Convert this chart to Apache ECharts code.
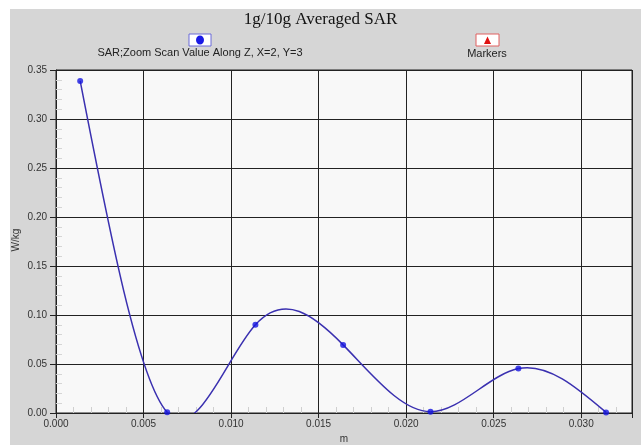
<!DOCTYPE html>
<html>
<head>
<meta charset="utf-8">
<script src="https://cdn.jsdelivr.net/npm/echarts@6/dist/echarts.min.js"></script>
<style>html,body{margin:0;padding:0;background:#fff}#c{width:641px;height:445px}</style>
</head>
<body>
<div id="c"></div>
<script>
// Data
var xPositions = [0.00138, 0.00635, 0.01139, 0.0164, 0.02139, 0.02641, 0.03142];
var sarValues  = [0.3388, 0.0007, 0.0900, 0.0695, 0.0013, 0.0453, 0.0006];
var xTickLabels = ['0.000','0.005','0.010','0.015','0.020','0.025','0.030'];
var yTickLabels = ['0.00','0.05','0.10','0.15','0.20','0.25','0.30','0.35'];
var titleText = '1g/10g Averaged SAR';
var seriesName = 'SAR;Zoom Scan Value Along Z, X=2, Y=3';
var markersName = 'Markers';

var points = xPositions.map(function (x, i) { return [x, sarValues[i]]; });

// Natural cubic spline second derivatives (the reference curve is a natural spline through the points)
function naturalSplineM(xs, ys) {
  var n = xs.length, M = new Array(n).fill(0);
  if (n < 3) return M;
  var a = [], b = [], c = [], d = [];
  for (var i = 1; i < n - 1; i++) {
    var h0 = xs[i] - xs[i - 1], h1 = xs[i + 1] - xs[i];
    a.push(h0); b.push(2 * (h0 + h1)); c.push(h1);
    d.push(6 * ((ys[i + 1] - ys[i]) / h1 - (ys[i] - ys[i - 1]) / h0));
  }
  var m = b.length, cp = [], dp = [];
  cp[0] = c[0] / b[0]; dp[0] = d[0] / b[0];
  for (var k = 1; k < m; k++) {
    var den = b[k] - a[k] * cp[k - 1];
    cp[k] = c[k] / den; dp[k] = (d[k] - a[k] * dp[k - 1]) / den;
  }
  var sol = []; sol[m - 1] = dp[m - 1];
  for (var k2 = m - 2; k2 >= 0; k2--) sol[k2] = dp[k2] - cp[k2] * sol[k2 + 1];
  for (var j = 0; j < m; j++) M[j + 1] = sol[j];
  return M;
}
var splineM = naturalSplineM(xPositions, sarValues);

var chart = echarts.init(document.getElementById('c'), null, {renderer: 'canvas'});
var labelFont = {color: '#333', fontSize: 10, fontFamily: 'Liberation Sans, Arial, sans-serif'};

function renderSegment(params, api) {
  var i = params.dataIndex;
  if (i >= xPositions.length - 1) return null;
  var x0 = xPositions[i], x1 = xPositions[i + 1], y0 = sarValues[i], y1 = sarValues[i + 1];
  var h = x1 - x0, s = (y1 - y0) / h;
  var m0 = s - h * (2 * splineM[i] + splineM[i + 1]) / 6;
  var m1 = s + h * (splineM[i] + 2 * splineM[i + 1]) / 6;
  var p0 = api.coord([x0, y0]);
  var p1 = api.coord([x1, y1]);
  var c0 = api.coord([x0 + h / 3, y0 + m0 * h / 3]);
  var c1 = api.coord([x1 - h / 3, y1 - m1 * h / 3]);
  var cs = params.coordSys;
  return {
    type: 'group',
    clipPath: {type: 'rect', shape: {x: cs.x, y: cs.y, width: cs.width, height: cs.height}},
    children: [{
      type: 'bezierCurve',
      shape: {x1: p0[0], y1: p0[1], cpx1: c0[0], cpy1: c0[1], cpx2: c1[0], cpy2: c1[1], x2: p1[0], y2: p1[1]},
      style: {stroke: '#3a30b0', lineWidth: 1.5, fill: null}
    }]
  };
}

chart.setOption({
  backgroundColor: '#ffffff',
  animation: false,
  title: {
    text: titleText, left: 'center', top: 6,
    textStyle: {fontFamily: 'Liberation Serif, Times New Roman, serif', fontWeight: 'normal', fontSize: 17, color: '#111'}
  },
  graphic: [
    {type: 'rect', z: -10, shape: {x: 10, y: 9, width: 631, height: 436}, style: {fill: '#d6d6d6'}},
    {type: 'rect', shape: {x: 189, y: 34, width: 22, height: 12}, style: {fill: '#ffffff', stroke: '#6a6ad8', lineWidth: 1}},
    {type: 'ellipse', shape: {cx: 200, cy: 40, rx: 4, ry: 4.5}, style: {fill: '#1a1ae6'}},
    {type: 'text', x: 200, y: 53, style: {text: seriesName, align: 'center', verticalAlign: 'middle', fill: '#222', fontSize: 11, fontFamily: 'Liberation Sans, Arial, sans-serif'}},
    {type: 'rect', shape: {x: 476, y: 34, width: 23, height: 12}, style: {fill: '#ffffff', stroke: '#e06060', lineWidth: 1}},
    {type: 'polygon', shape: {points: [[487.5, 36.5], [484, 44], [491, 44]]}, style: {fill: '#e01010'}},
    {type: 'text', x: 487, y: 54, style: {text: markersName, align: 'center', verticalAlign: 'middle', fill: '#222', fontSize: 11, fontFamily: 'Liberation Sans, Arial, sans-serif'}},
    {type: 'text', x: 16, y: 240, rotation: Math.PI / 2, style: {text: 'W/kg', align: 'center', verticalAlign: 'middle', fill: '#333', fontSize: 10, fontFamily: 'Liberation Sans, Arial, sans-serif'}},
    {type: 'text', x: 344, y: 439, style: {text: 'm', align: 'center', verticalAlign: 'middle', fill: '#333', fontSize: 10, fontFamily: 'Liberation Sans, Arial, sans-serif'}}
  ],
  grid: {left: 56, right: 9, top: 70, bottom: 32, show: true, backgroundColor: '#f8f8f8', borderColor: '#222', borderWidth: 1},
  xAxis: [{
    type: 'value', min: 0, max: 0.0329, interval: 0.005,
    axisLine: {show: true, lineStyle: {color: '#222'}},
    axisTick: {show: true, length: 5, lineStyle: {color: '#222'}},
    axisLabel: Object.assign({margin: 6, formatter: function (v) {
      var i = Math.round(v / 0.005);
      return Math.abs(v - i * 0.005) < 1e-9 && xTickLabels[i] ? xTickLabels[i] : '';
    }}, labelFont),
    splitLine: {show: true, lineStyle: {color: '#222', width: 1}}
  }, {
    type: 'value', min: 0, max: 0.0329, interval: 0.005, position: 'bottom',
    axisLine: {show: false}, axisLabel: {show: false}, splitLine: {show: false},
    axisTick: {show: false, inside: true},
    minorTick: {show: true, splitNumber: 5, length: 6, lineStyle: {color: '#cfcfcf'}}
  }],
  yAxis: [{
    type: 'value', min: 0, max: 0.35, interval: 0.05,
    axisLine: {show: true, lineStyle: {color: '#222'}},
    axisTick: {show: true, length: 6, lineStyle: {color: '#222'}},
    axisLabel: Object.assign({margin: 9, formatter: function (v) {
      var i = Math.round(v / 0.05);
      return yTickLabels[i] || '';
    }}, labelFont),
    splitLine: {show: true, lineStyle: {color: '#222', width: 1}}
  }, {
    type: 'value', min: 0, max: 0.35, interval: 0.05, position: 'left',
    axisLine: {show: false}, axisLabel: {show: false}, splitLine: {show: false},
    axisTick: {show: false, inside: true},
    minorTick: {show: true, splitNumber: 5, length: 6, lineStyle: {color: '#d5d5d5'}}
  }],
  series: [{
    name: seriesName, type: 'custom', data: points,
    encode: {x: 0, y: 1},
    renderItem: renderSegment,
    z: 2
  }, {
    name: seriesName + ' points', type: 'scatter', data: points,
    symbol: 'circle', symbolSize: 6,
    itemStyle: {color: '#1515e0'},
    z: 3
  }]
});
</script>
</body>
</html>
